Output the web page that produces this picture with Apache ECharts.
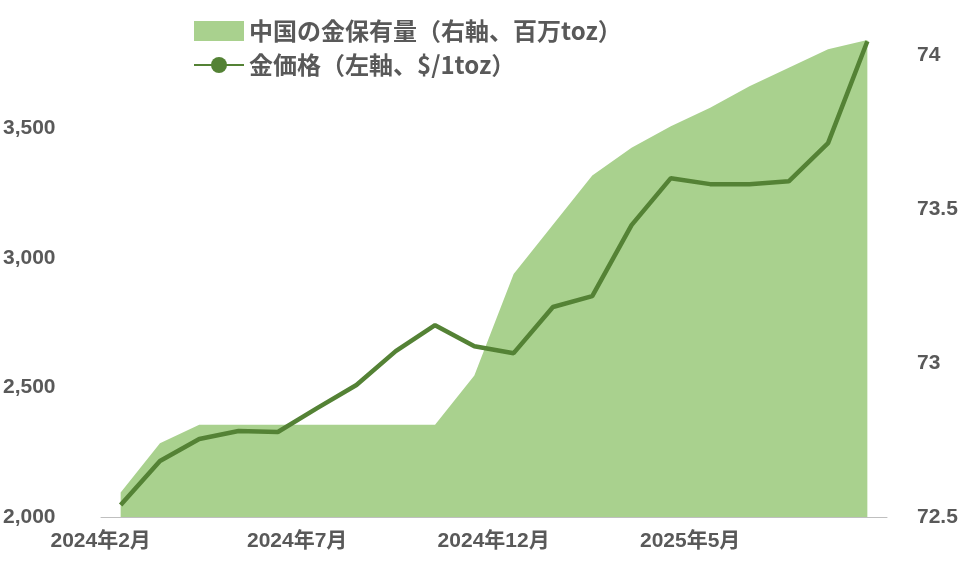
<!DOCTYPE html>
<html><head><meta charset="utf-8">
<script src="https://cdn.jsdelivr.net/npm/echarts@6/dist/echarts.min.js"></script>
<style>html,body{margin:0;background:#fff}#main{width:976px;height:584px}</style>
</head><body><div id="main"></div>
<script>
var months = ['2024年2月','2024年3月','2024年4月','2024年5月','2024年6月','2024年7月','2024年8月','2024年9月','2024年10月','2024年11月',
  '2024年12月','2025年1月','2025年2月','2025年3月','2025年4月','2025年5月','2025年6月','2025年7月','2025年8月','2025年9月'];
// 金価格（左軸、$/1toz）
var goldPrice = [2046,2216,2301,2332,2328,2420,2509,2640,2740,2659,2632,2810,2852,3126,3307,3284,3284,3295,3442,3835];
// 中国の金保有量（右軸、百万toz）
var holdings = [72.58,72.74,72.80,72.80,72.80,72.80,72.80,72.80,72.80,72.96,73.29,73.45,73.61,73.70,73.77,73.83,73.90,73.96,74.02,74.05];

var labelStyle = {color:'#595959', fontSize:21, fontWeight:'bold', fontFamily:'Liberation Sans, Noto Sans CJK JP'};
var myChart = echarts.init(document.getElementById('main'));
var option = {
  animation:false,
  grid:{left:98, right:89, top:40, bottom:67},
  legend:{
    orient:'vertical', left:188, top:14, itemGap:10, itemWidth:50, itemHeight:20,
    textStyle:{color:'#595959', fontSize:24, fontWeight:'bold', fontFamily:'Noto Sans CJK JP'},
    data:[{name:'中国の金保有量（右軸、百万toz）', icon:'rect'},{name:'金価格（左軸、$/1toz）'}]
  },
  xAxis:{
    type:'category', data:months, boundaryGap:true,
    axisLine:{lineStyle:{color:'#bfbfbf'}},
    axisTick:{interval:4, length:6, lineStyle:{color:'#bfbfbf'}},
    axisLabel:Object.assign({interval:4, margin:14, padding:[0,40,0,0]}, labelStyle)
  },
  yAxis:[
    {type:'value', min:2000, max:3840, interval:500, splitLine:{show:false},
     axisLabel:Object.assign({showMaxLabel:false, margin:30, align:'left'}, labelStyle, {padding:[0,0,0,-68]})},
    {type:'value', min:72.5, max:74.05, interval:0.5, splitLine:{show:false},
     axisLabel:Object.assign({showMaxLabel:false, margin:30}, labelStyle)}
  ],
  series:[
    {name:'中国の金保有量（右軸、百万toz）', type:'line', yAxisIndex:1, data:holdings,
     symbol:'none', lineStyle:{width:0}, itemStyle:{color:'#a9d18e'}, areaStyle:{color:'#a9d18e', opacity:1}},
    {name:'金価格（左軸、$/1toz）', type:'line', yAxisIndex:0, data:goldPrice,
     symbol:'none', lineStyle:{width:4.5, color:'#548235'}, itemStyle:{color:'#548235'}}
  ]
};
myChart.setOption(option);
</script></body></html>
